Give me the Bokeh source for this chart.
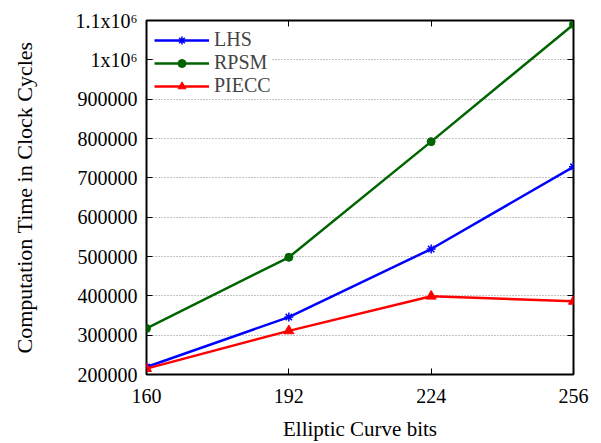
from bokeh.plotting import figure
from bokeh.models import LinearAxis, FixedTicker, Range1d, Legend, LegendItem
from bokeh.embed import file_html
from bokeh.resources import INLINE

bits = [160, 192, 224, 256]
lhs = [219000, 346000, 519000, 728000]
rpsm = [317000, 498000, 792000, 1090000]
piecc = [215000, 311000, 399000, 386000]

x_ticks = [160, 192, 224, 256]
y_ticks = [200000, 300000, 400000, 500000, 600000, 700000, 800000, 900000, 1000000, 1100000]
y_tick_labels = ["200000", "300000", "400000", "500000", "600000", "700000",
                 "800000", "900000", "1x10\u2076", "1.1x10\u2076"]

FONT = "Liberation Serif"

p = figure(width=601, height=443, output_backend="svg", toolbar_location=None,
           x_range=Range1d(160, 256), y_range=Range1d(200000, 1100000),
           min_border_left=146, min_border_right=28, min_border_top=20, min_border_bottom=68)

p.outline_line_color = "black"
p.outline_line_width = 2
p.background_fill_color = "white"
p.border_fill_color = "white"

p.xgrid.visible = False
p.ygrid.ticker = FixedTicker(ticks=y_ticks)
p.ygrid.grid_line_color = "#888888"
p.ygrid.grid_line_dash = "1 2"
p.ygrid.grid_line_width = 1

p.xaxis.ticker = FixedTicker(ticks=x_ticks)
p.yaxis.ticker = FixedTicker(ticks=y_ticks)
p.yaxis.major_label_overrides = {t: l for t, l in zip(y_ticks, y_tick_labels)}
p.xaxis.axis_label = "Elliptic Curve bits"
p.yaxis.axis_label = "Computation Time in Clock Cycles"

for ax in [p.xaxis[0], p.yaxis[0]]:
    ax.axis_line_color = None
    ax.major_tick_in = 6
    ax.major_tick_out = 0
    ax.minor_tick_line_color = None
    ax.major_tick_line_color = "black"
    ax.major_tick_line_width = 1
    ax.major_label_text_font = FONT
    ax.major_label_text_font_size = "20px"
    ax.major_label_text_color = "black"
    ax.axis_label_text_font = FONT
    ax.axis_label_text_font_style = "normal"
    ax.axis_label_text_color = "black"

p.xaxis.axis_label_text_font_size = "21px"
p.yaxis.axis_label_text_font_size = "22px"
p.xaxis.major_label_standoff = 14
p.xaxis.axis_label_standoff = 11
p.yaxis.major_label_standoff = 9
p.yaxis.axis_label_standoff = 36

right = LinearAxis(ticker=FixedTicker(ticks=y_ticks), axis_line_color=None,
                   major_tick_in=6, major_tick_out=0, minor_tick_line_color=None,
                   major_label_overrides={t: "" for t in y_ticks}, major_label_standoff=0)
top = LinearAxis(ticker=FixedTicker(ticks=x_ticks), axis_line_color=None,
                 major_tick_in=6, major_tick_out=0, minor_tick_line_color=None,
                 major_label_overrides={t: "" for t in x_ticks}, major_label_standoff=0)
p.add_layout(right, "right")
p.add_layout(top, "above")

l1 = p.line(bits, lhs, line_color="#0000ff", line_width=2.5)
m1 = p.scatter(bits, lhs, marker="asterisk", size=9, line_color="#0000ff", line_width=1.5)
l2 = p.line(bits, rpsm, line_color="#006400", line_width=2.5)
m2 = p.scatter(bits, rpsm, marker="circle", size=8, fill_color="#006400", line_color="#006400")
l3 = p.line(bits, piecc, line_color="#ff0000", line_width=2.5)
m3 = p.scatter(bits, piecc, marker="triangle", size=10, fill_color="#ff0000", line_color="#ff0000")

legend = Legend(items=[
    LegendItem(label="LHS", renderers=[l1, m1]),
    LegendItem(label="RPSM", renderers=[l2, m2]),
    LegendItem(label="PIECC", renderers=[l3, m3]),
], location="top_left")
legend.border_line_color = None
legend.background_fill_color = "white"
legend.background_fill_alpha = 1
legend.label_text_font = FONT
legend.label_text_font_size = "20px"
legend.glyph_width = 55
legend.glyph_height = 20
legend.label_height = 20
legend.spacing = 0
legend.padding = 6
legend.margin = 8
p.add_layout(legend)

open("out.html", "w").write(file_html(p, INLINE))
